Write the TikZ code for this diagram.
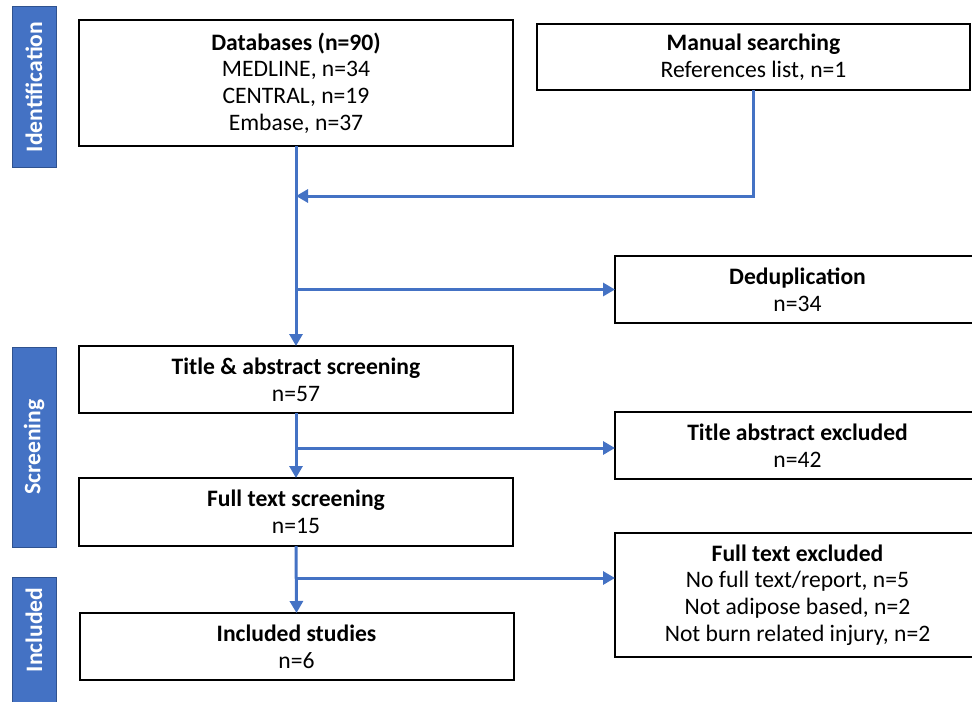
\documentclass[tikz,border=0pt]{standalone}
\usepackage{fontspec}
\setmainfont{Carlito}
\usepackage{tikz}
\usetikzlibrary{calc,arrows.meta}
\definecolor{flowblue}{HTML}{4472C4}
\definecolor{phaseedge}{HTML}{2F528F}
\tikzset{
    box/.style={draw=black, line width=1pt, fill=white, inner sep=0pt, outer sep=0pt,
        align=center, font=\fontsize{11.8}{13.4}\selectfont},
    phase/.style={draw=phaseedge, line width=0.5pt, fill=flowblue, inner sep=0pt, outer sep=0pt},
    phasetext/.style={rotate=90, text=white, font=\fontsize{11.8}{13.4}\selectfont\bfseries},
    flow/.style={draw=flowblue, line width=1.5pt, -{Triangle[length=6pt,width=6.5pt]}}
}

\begin{document}
\begin{tikzpicture}[x=0.5pt,y=-0.5pt]
            \useasboundingbox (0,0) rectangle (972,701);
            \clip (0,0) rectangle (972,701);
            \node[phase, minimum width=22pt, minimum height=80pt] (ident) at (34,87) {};
            \node[phasetext] (identtxt) at (ident.center) {Identification};
            \node[phase, minimum width=22pt, minimum height=100pt] (screen) at (34,447) {};
            \node[phasetext] (screentxt) at (screen.center) {Screening};
            \node[phase, minimum width=22pt, minimum height=67.5pt] (incl) at (34,644.5) {};
            \node[phasetext] (incltxt) at (34,630) {Included};
            \node[box, minimum width=217pt, minimum height=63pt] (db) at (296,83)
                {\textbf{Databases (n=90)}\\MEDLINE, n=34\\CENTRAL, n=19\\Embase, n=37};
            \node[box, minimum width=216.5pt, minimum height=33pt] (manual) at (753.5,57)
                {\textbf{Manual searching}\\References list, n=1};
            \node[box, minimum width=182.5pt, minimum height=33.5pt] (dedup) at (797.5,289.5)
                {\textbf{Deduplication}\\n=34};
            \node[box, minimum width=217pt, minimum height=33.5pt] (tas) at (296,379.5)
                {\textbf{Title \& abstract screening}\\n=57};
            \node[box, minimum width=182.5pt, minimum height=33.5pt] (tae) at (797.5,445.5)
                {\textbf{Title abstract excluded}\\n=42};
            \node[box, minimum width=217pt, minimum height=34pt] (fts) at (296,512)
                {\textbf{Full text screening}\\n=15};
            \node[box, minimum width=182.5pt, minimum height=62pt] (fte) at (797.5,595)
                {\textbf{Full text excluded}\\No full text/report, n=5\\Not adipose based, n=2\\Not burn related injury, n=2};
            \node[box, minimum width=217pt, minimum height=33.5pt] (inc) at (296.5,646.5)
                {\textbf{Included studies}\\n=6};
            \coordinate (mjoin) at (296,196);
            \coordinate (ftjoin) at (296,578);
            \draw[flow] (db.south) -- (tas.north);
            \draw[flow] (manual.south) |- (mjoin);
            \draw[flow] (db.south |- dedup.west) -- (dedup.west);
            \draw[flow] (tas.south) -- (fts.north);
            \draw[flow] (tas.south |- 0,448) -- (tae.west |- 0,448);
            \draw[flow] (fts.south) -- (inc.north);
            \draw[flow] (ftjoin) -- (ftjoin -| fte.west);
        \end{tikzpicture}
\end{document}
